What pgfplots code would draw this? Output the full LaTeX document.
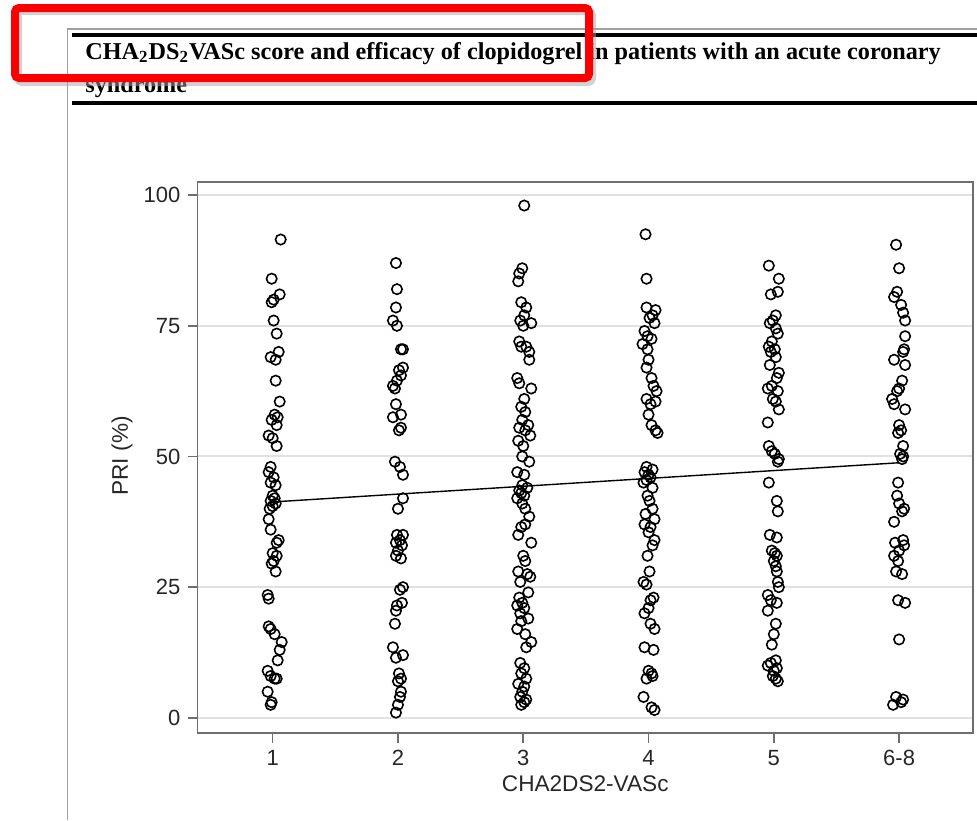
\documentclass[border=0pt]{standalone}
\usepackage{pgfplots}
\pgfplotsset{compat=1.18}
\usepackage{fontspec}
\setmainfont{Liberation Serif}
\newfontfamily\arial{Liberation Sans}
\definecolor{redbox}{RGB}{250,0,0}
\definecolor{framegray}{RGB}{160,160,160}
\definecolor{axgray}{RGB}{110,110,110}
\definecolor{gridgray}{RGB}{225,225,225}
\pgfplotsset{pts/.style={only marks, mark=o, black, mark size=2.6pt, mark options={line width=0.8pt, black, fill=none}}}
\begin{document}
\begin{tikzpicture}
\path[use as bounding box] (0,0) rectangle (488.5pt,-410pt);
\begin{scope}[x=0.5pt,y=-0.5pt]
% document frame
\draw[framegray, line width=0.75pt] (67.5,820) -- (67.5,29) -- (977,29);
\draw[black, line width=2pt] (72,35) -- (977,35);
\draw[black, line width=2pt] (72,103) -- (977,103);
\node[anchor=base west, inner sep=0pt, font=\fontsize{12.1}{14}\selectfont\bfseries] at (85,59)
  {CHA\textsubscript{2}DS\textsubscript{2}VASc score and efficacy of clopidogrel in patients with an acute coronary};
\node[anchor=base west, inner sep=0pt, font=\fontsize{12.1}{14}\selectfont\bfseries] at (85,92)
  {syndrome};
% red highlight box
\draw[black!35, opacity=0.5, line width=4pt, rounded corners=2pt] (18,11) rectangle (592,82);
\draw[redbox, line width=4pt, rounded corners=2pt] (15,8) rectangle (589,78);
\end{scope}
\begin{axis}[
  at={(98.75pt,-366.5pt)}, anchor=south west,
  scale only axis, width=387.75pt, height=275.5pt,
  xmin=0.40, xmax=6.59, ymin=-2.9, ymax=102.5,
  xtick={1,2,3,4,5,6}, xticklabels={1,2,3,4,5,6-8},
  ytick={0,25,50,75,100},
  ymajorgrids, grid style={gridgray, line width=1pt},
  axis line style={axgray, line width=0.9pt},
  tick style={axgray, line width=0.8pt},
  tick align=outside, major tick length=5pt,
  xtick pos=bottom, ytick pos=left,
  /pgf/number format/assume math mode=true,
  tick label style={font=\arial\fontsize{11}{13}\selectfont, text=black!85},
  label style={font=\arial\fontsize{11.3}{13}\selectfont, text=black!85},
  xlabel={CHA2DS2-VASc},
  ylabel={PRI (\%)},
  xlabel style={at={(axis description cs:0.5,-0.1053)}, anchor=base},
  ylabel style={at={(axis description cs:-0.0974,0.503)}, anchor=center, rotate=0},
  clip=false,
]
% 1
\addplot[pts] coordinates {
(1.064,91.5)(0.992,84)(1.056,81)(1.008,80)(0.992,79.5)(1.008,76)(1.032,73.5)
(1.048,70)(0.984,69)(1.024,68.5)(1.024,64.5)(1.056,60.5)(1.016,58)(1.040,57.5)
(0.992,57)(1.032,56)(0.968,54)(1.000,53.5)(1.032,52)(0.984,48)(0.968,47)
(1.008,46)(0.984,45)(1.024,44.5)(1.000,42.5)(1.016,42)(0.984,41.5)(1.024,41)
(1.000,40.5)(0.976,40)(0.968,38)(0.984,36)(1.048,34)(1.032,33.5)(1.000,31.5)
(1.032,31)(1.008,30)(0.992,29.5)(1.024,28)(0.960,23.5)(0.968,22.8)(0.968,17.5)
(0.984,17)(1.016,16)(1.072,14.5)(1.056,13)(1.040,11)(0.960,9)(0.984,8)
(1.032,7.5)(1.016,7.5)(0.960,5)(0.992,3)(0.984,2.5)
};
% 2
\addplot[pts] coordinates {
(1.984,87)(1.992,82)(1.984,78.5)(1.960,76)(1.992,75)(2.040,70.5)(2.024,70.5)
(2.040,67)(2.008,66.5)(2.024,65.5)(1.992,64.5)(1.960,63.5)(1.976,63)(1.984,60)
(2.024,58)(1.960,57.5)(2.024,55.5)(2.008,55)(1.976,49)(2.016,48)(2.040,46.5)
(2.040,42)(2.000,40)(1.992,35)(2.040,35)(2.016,34)(1.984,33.5)(2.032,33)
(2.000,32)(1.984,31)(2.024,30.5)(2.040,25)(2.016,24.5)(2.032,22)(1.992,21.5)
(1.984,20.5)(1.976,18)(1.960,13.5)(2.040,12)(1.984,11.5)(2.008,8.5)(2.024,7.5)
(2.000,7)(2.024,5)(2.016,4)(2.000,2.5)(1.984,1)
};
% 3
\addplot[pts] coordinates {
(3.008,98)(2.992,86)(2.968,85)(2.960,83.5)(2.984,79.5)(3.024,78.5)(3.008,77)
(2.976,76)(3.064,75.5)(3.000,75)(2.968,72)(2.984,71)(3.024,71)(3.048,70)
(3.048,68.5)(2.952,65)(2.968,64)(3.064,63)(3.008,61)(2.984,59.5)(3.016,58.5)
(2.992,57)(3.040,56)(2.968,55.5)(3.016,55)(3.056,54)(2.960,53)(3.000,52)
(2.992,50)(3.048,49)(2.952,47)(3.008,46.5)(2.992,44.5)(3.032,44)(2.968,43.5)
(2.984,43)(3.008,42.5)(2.952,42)(2.992,41)(3.016,40)(3.048,38.5)(3.016,37)
(2.984,36.5)(2.960,35)(3.064,33.5)(3.000,31)(3.016,30)(2.960,28)(3.032,27.5)
(3.056,27)(2.976,26)(3.040,24)(2.968,23)(2.992,22)(2.952,21.5)(3.008,21)
(2.976,20)(3.040,19)(2.984,18.5)(2.952,17)(3.016,16)(3.064,14.5)(3.024,13.5)
(2.976,10.5)(3.008,9.5)(2.984,8.5)(3.024,7.5)(2.960,6.5)(3.008,6)(2.992,5)
(2.976,4)(3.024,3.5)(3.008,3)(2.984,2.5)
};
% 4
\addplot[pts] coordinates {
(3.976,92.5)(3.984,84)(3.984,78.5)(4.056,78)(4.032,77)(4.008,76.5)(4.048,75.5)
(3.968,74)(3.992,73)(4.024,72.5)(3.952,71.5)(3.992,70.5)(4.000,68.5)(3.984,67)
(4.024,65)(4.040,63.5)(4.064,62.5)(3.984,61)(4.056,60.5)(4.016,60)(4.000,58)
(4.024,56)(4.056,55)(4.072,54.5)(3.984,48)(4.032,47.5)(3.968,47)(4.000,46.5)
(4.016,46)(3.984,45.5)(3.960,45)(4.032,44)(3.992,42.5)(4.008,41.5)(4.032,40)
(3.976,39)(4.048,38)(3.968,37)(4.016,36.5)(4.000,35.5)(4.048,34)(4.032,33)
(3.992,31)(4.008,28)(3.960,26)(3.984,25.5)(4.040,23)(4.016,22.5)(4.000,21)
(3.968,20)(4.016,18)(4.048,17)(3.968,13.5)(4.040,13)(4.000,9)(4.024,8.5)
(4.032,8)(3.984,7.5)(3.960,4)(4.024,2)(4.048,1.5)
};
% 5
\addplot[pts] coordinates {
(4.960,86.5)(5.040,84)(5.032,81.5)(4.976,81)(5.016,77)(4.992,76)(4.968,75.5)
(5.016,74.5)(5.032,73.5)(4.984,72)(4.960,71)(5.008,70.5)(4.976,70)(5.016,69)
(4.968,67.5)(5.040,66)(5.024,65)(4.984,63.5)(4.952,63)(5.032,62.5)(4.992,61)
(5.016,60.5)(5.040,59)(4.952,56.5)(4.960,52)(4.984,51)(5.008,50.5)(5.040,49.5)
(5.032,49)(4.960,45)(5.024,41.5)(5.032,39.5)(4.968,35)(5.024,34.5)(4.984,32)
(5.008,31.5)(5.024,31)(5.000,30)(5.016,29)(5.024,28)(5.032,26)(5.040,25)
(4.952,23.5)(4.976,22.5)(5.024,22)(4.952,20.5)(5.016,18)(5.000,16)(4.984,14)
(5.016,11)(4.976,10.5)(4.952,10)(5.024,9.5)(5.000,9)(4.992,8)(5.016,7.5)(5.032,7)
};
% 6-8
\addplot[pts] coordinates {
(5.976,90.5)(6.000,86)(5.984,81.5)(5.960,80.5)(6.016,79)(6.032,77.5)(6.048,76)
(6.048,73)(6.040,70.5)(6.032,70)(5.960,68.5)(6.048,67.5)(6.024,64.5)(6.000,63)
(5.984,62.5)(5.944,61)(5.960,60)(6.048,59)(6.000,56)(6.016,55)(5.992,54.5)
(6.032,52)(6.008,50.5)(6.032,50)(6.024,49.5)(5.992,45)(5.984,42.5)(6.000,41)
(6.040,40)(6.024,39.5)(5.960,37.5)(6.032,34)(5.968,33.5)(6.040,33)(6.000,32)
(5.960,31)(5.992,30)(5.976,28)(6.024,27.5)(5.992,22.5)(6.048,22)(6.000,15)
(5.976,4)(6.032,3.5)(6.016,3)(5.952,2.5)
};
% fitted line
\addplot[no marks, black, line width=0.7pt, sharp plot] coordinates {(1,41.3)(6,48.8)};
\end{axis}
\end{tikzpicture}
\end{document}
